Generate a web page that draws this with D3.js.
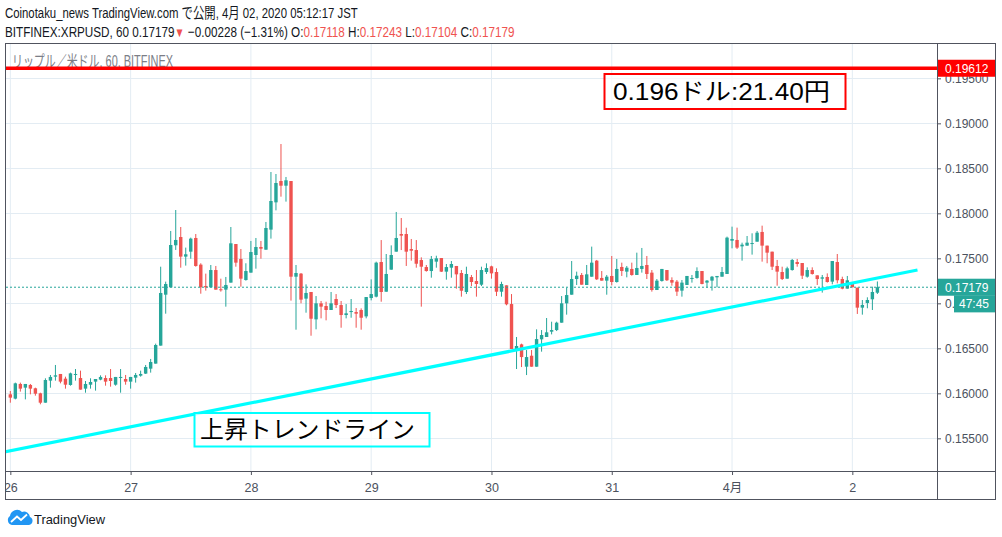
<!DOCTYPE html>
<html lang="ja">
<head>
    <meta charset="UTF-8">
    <title>XRPUSD 60</title>
    <style>
        body { margin: 0; background: #fff; }
        svg text { font-family: "Liberation Sans", "Noto Sans CJK JP", sans-serif; }
    </style>
</head>
<body>
<svg id="chart" width="1002" height="537"></svg>

<script src="https://cdnjs.cloudflare.com/ajax/libs/d3/7.8.5/d3.min.js"></script>
<script>
    // hourly candles, first one is 2020-03-26 00:00 (JST shown as UTC here)
    var startTime = Date.UTC(2020, 2, 26, 0, 0);

    var opens = [
        0.15989, 0.15941, 0.16104, 0.16063, 0.16093, 0.16056, 0.16000, 0.15896, 0.16141, 0.16185, 0.16215, 0.16163,
        0.16093, 0.16207, 0.16170, 0.16052, 0.16096, 0.16130, 0.16152, 0.16170, 0.16170, 0.16096, 0.16174, 0.16159,
        0.16130, 0.16174, 0.16196, 0.16219, 0.16274, 0.16330, 0.16530, 0.17096, 0.17178, 0.17645, 0.17737, 0.17519,
        0.17574, 0.17726, 0.17430, 0.17193, 0.17178, 0.17370, 0.17156, 0.17152, 0.17230, 0.17659, 0.17493, 0.17259,
        0.17341, 0.17537, 0.17626, 0.17596, 0.17819, 0.18122, 0.18359, 0.18307, 0.18359, 0.17296, 0.17330, 0.17052,
        0.17126, 0.16822, 0.17000, 0.16970, 0.16926, 0.17048, 0.16981, 0.16870, 0.16903, 0.16903, 0.16926, 0.16855,
        0.17059, 0.17074, 0.17459, 0.17129, 0.17374, 0.17574, 0.17770, 0.17770, 0.17603, 0.17592, 0.17481, 0.17403,
        0.17359, 0.17463, 0.17503, 0.17352, 0.17396, 0.17415, 0.17337, 0.17126, 0.17292, 0.17248, 0.17207, 0.17348,
        0.17411, 0.17348, 0.17129, 0.17200, 0.16992, 0.16492, 0.16544, 0.16296, 0.16418, 0.16296, 0.16600, 0.16626,
        0.16685, 0.16703, 0.16785, 0.17000, 0.17096, 0.17270, 0.17315, 0.17204, 0.17296, 0.17474, 0.17282, 0.17252,
        0.17304, 0.17237, 0.17404, 0.17352, 0.17382, 0.17315, 0.17382, 0.17426, 0.17341, 0.17148, 0.17248, 0.17370,
        0.17259, 0.17241, 0.17141, 0.17204, 0.17274, 0.17282, 0.17359, 0.17230, 0.17252, 0.17289, 0.17296, 0.17326,
        0.17696, 0.17704, 0.17633, 0.17641, 0.17663, 0.17685, 0.17793, 0.17641, 0.17574, 0.17415, 0.17348, 0.17274,
        0.17370, 0.17459, 0.17448, 0.17296, 0.17370, 0.17311, 0.17274, 0.17293, 0.17241, 0.17459, 0.17270, 0.17163,
        0.17233, 0.17174, 0.16952, 0.17004, 0.17045, 0.17118
    ];
    var highs = [
        0.16026, 0.16119, 0.16119, 0.16104, 0.16104, 0.16063, 0.16007, 0.16167, 0.16204, 0.16315, 0.16215, 0.16185,
        0.16230, 0.16270, 0.16252, 0.16137, 0.16167, 0.16159, 0.16200, 0.16200, 0.16270, 0.16182, 0.16270, 0.16204,
        0.16182, 0.16226, 0.16252, 0.16315, 0.16382, 0.16552, 0.17407, 0.17241, 0.17804, 0.18037, 0.17848, 0.17619,
        0.17730, 0.17770, 0.17445, 0.17330, 0.17426, 0.17415, 0.17274, 0.17293, 0.17848, 0.17659, 0.17604, 0.17445,
        0.17693, 0.17726, 0.17693, 0.17904, 0.18459, 0.18437, 0.18770, 0.18404, 0.18359, 0.17426, 0.17337, 0.17211,
        0.17126, 0.17081, 0.17026, 0.17018, 0.17126, 0.17103, 0.17026, 0.16992, 0.17048, 0.16948, 0.16944, 0.17070,
        0.17266, 0.17463, 0.17703, 0.17548, 0.17644, 0.18015, 0.17948, 0.17840, 0.17715, 0.17703, 0.17511, 0.17426,
        0.17526, 0.17529, 0.17503, 0.17437, 0.17470, 0.17415, 0.17370, 0.17407, 0.17315, 0.17370, 0.17407, 0.17444,
        0.17418, 0.17389, 0.17240, 0.17200, 0.17103, 0.16626, 0.16552, 0.16481, 0.16481, 0.16711, 0.16703, 0.16837,
        0.16796, 0.16796, 0.17081, 0.17174, 0.17470, 0.17352, 0.17337, 0.17426, 0.17630, 0.17482, 0.17359, 0.17315,
        0.17526, 0.17493, 0.17452, 0.17415, 0.17452, 0.17563, 0.17615, 0.17526, 0.17370, 0.17270, 0.17382, 0.17370,
        0.17289, 0.17259, 0.17259, 0.17304, 0.17315, 0.17400, 0.17359, 0.17259, 0.17304, 0.17304, 0.17404, 0.17741,
        0.17852, 0.17841, 0.17674, 0.17748, 0.17778, 0.17804, 0.17863, 0.17641, 0.17574, 0.17482, 0.17407, 0.17407,
        0.17493, 0.17493, 0.17448, 0.17400, 0.17400, 0.17311, 0.17315, 0.17333, 0.17470, 0.17548, 0.17296, 0.17304,
        0.17233, 0.17174, 0.17037, 0.17067, 0.17185, 0.17243
    ];
    var lows = [
        0.15896, 0.15933, 0.16019, 0.15933, 0.15989, 0.15974, 0.15878, 0.15896, 0.16063, 0.16141, 0.16111, 0.16052,
        0.16085, 0.16141, 0.16041, 0.16007, 0.16052, 0.16030, 0.16145, 0.16085, 0.16074, 0.16085, 0.16007, 0.16096,
        0.16052, 0.16119, 0.16185, 0.16215, 0.16230, 0.16330, 0.16530, 0.16885, 0.17178, 0.17593, 0.17396, 0.17419,
        0.17496, 0.17407, 0.17107, 0.17141, 0.17178, 0.17152, 0.17130, 0.16963, 0.17230, 0.17407, 0.17185, 0.17252,
        0.17341, 0.17385, 0.17496, 0.17596, 0.17719, 0.18033, 0.18185, 0.18130, 0.17030, 0.16707, 0.17000, 0.16896,
        0.16640, 0.16711, 0.16833, 0.16811, 0.16926, 0.16948, 0.16729, 0.16833, 0.16840, 0.16729, 0.16707, 0.16833,
        0.17033, 0.17066, 0.17018, 0.17129, 0.17374, 0.17574, 0.17592, 0.17415, 0.17474, 0.17396, 0.16963, 0.17352,
        0.17285, 0.17396, 0.17348, 0.17263, 0.17285, 0.17163, 0.17074, 0.17103, 0.17192, 0.17074, 0.17192, 0.17326,
        0.17274, 0.17081, 0.17074, 0.16978, 0.16492, 0.16270, 0.16292, 0.16203, 0.16296, 0.16296, 0.16463, 0.16626,
        0.16655, 0.16692, 0.16785, 0.16874, 0.17096, 0.17204, 0.17207, 0.17204, 0.17296, 0.17259, 0.17252, 0.17096,
        0.17200, 0.17230, 0.17304, 0.17289, 0.17307, 0.17315, 0.17341, 0.17270, 0.17130, 0.17148, 0.17241, 0.17248,
        0.17196, 0.17082, 0.17074, 0.17204, 0.17230, 0.17274, 0.17211, 0.17174, 0.17141, 0.17178, 0.17296, 0.17326,
        0.17611, 0.17604, 0.17474, 0.17641, 0.17541, 0.17685, 0.17463, 0.17445, 0.17370, 0.17196, 0.17259, 0.17274,
        0.17363, 0.17407, 0.17270, 0.17285, 0.17319, 0.17204, 0.17119, 0.17230, 0.17211, 0.17222, 0.17156, 0.17163,
        0.17178, 0.16882, 0.16874, 0.16945, 0.16926, 0.17104
    ];
    var closes = [
        0.15952, 0.16111, 0.16052, 0.16104, 0.16052, 0.15996, 0.15896, 0.16148, 0.16182, 0.16200, 0.16130, 0.16096,
        0.16222, 0.16215, 0.16041, 0.16104, 0.16126, 0.16159, 0.16182, 0.16130, 0.16137, 0.16182, 0.16182, 0.16130,
        0.16182, 0.16204, 0.16215, 0.16293, 0.16348, 0.16537, 0.17115, 0.17215, 0.17648, 0.17704, 0.17519, 0.17545,
        0.17719, 0.17415, 0.17178, 0.17178, 0.17370, 0.17152, 0.17145, 0.17204, 0.17667, 0.17452, 0.17274, 0.17359,
        0.17570, 0.17626, 0.17607, 0.17837, 0.18137, 0.18337, 0.18307, 0.18367, 0.17296, 0.17337, 0.17041, 0.17115,
        0.16829, 0.17000, 0.16963, 0.16926, 0.17000, 0.16981, 0.16870, 0.16889, 0.16915, 0.16885, 0.16840, 0.17070,
        0.17103, 0.17452, 0.17126, 0.17326, 0.17537, 0.17726, 0.17752, 0.17574, 0.17585, 0.17440, 0.17407, 0.17359,
        0.17492, 0.17500, 0.17352, 0.17403, 0.17437, 0.17322, 0.17140, 0.17326, 0.17237, 0.17215, 0.17370, 0.17392,
        0.17333, 0.17129, 0.17215, 0.16989, 0.16492, 0.16526, 0.16403, 0.16403, 0.16296, 0.16603, 0.16648, 0.16678,
        0.16703, 0.16785, 0.17000, 0.17092, 0.17270, 0.17307, 0.17207, 0.17322, 0.17452, 0.17267, 0.17252, 0.17296,
        0.17237, 0.17382, 0.17359, 0.17396, 0.17315, 0.17393, 0.17415, 0.17326, 0.17148, 0.17252, 0.17382, 0.17256,
        0.17230, 0.17130, 0.17230, 0.17304, 0.17282, 0.17359, 0.17215, 0.17252, 0.17296, 0.17304, 0.17348, 0.17730,
        0.17715, 0.17619, 0.17652, 0.17674, 0.17670, 0.17785, 0.17641, 0.17563, 0.17407, 0.17352, 0.17270, 0.17389,
        0.17482, 0.17437, 0.17307, 0.17370, 0.17326, 0.17270, 0.17289, 0.17237, 0.17470, 0.17256, 0.17163, 0.17256,
        0.17178, 0.16952, 0.16982, 0.17037, 0.17126, 0.17179
    ];

    var priceTicks = [0.155, 0.160, 0.165, 0.170, 0.175, 0.180, 0.185, 0.190, 0.195];
    var dayTicks = [
        Date.UTC(2020, 2, 26), Date.UTC(2020, 2, 27), Date.UTC(2020, 2, 28), Date.UTC(2020, 2, 29),
        Date.UTC(2020, 2, 30), Date.UTC(2020, 2, 31), Date.UTC(2020, 3, 1), Date.UTC(2020, 3, 2)
    ];
    var dayLabels = ["26", "27", "28", "29", "30", "31", "4月", "2"];

    var resistance = 0.19612;
    var lastClose = 0.17179;
    var countdown = "47:45";
    // two anchor points of the drawn trend line
    var trendTimes = [Date.UTC(2020, 2, 25, 23, 0), Date.UTC(2020, 3, 2, 13, 0)];
    var trendPrices = [0.1535, 0.1737];

    var UP = "#26a69a", DOWN = "#ef5350", GRID = "#e3ecf3", FRAME = "#50535e";

    // candles as objects
    var candles = opens.map(function (o, i) {
        return {t: startTime + i * 3600e3, o: o, h: highs[i], l: lows[i], c: closes[i]};
    });

    var plot = {left: 6, right: 937, top: 44, bottom: 471};

    var x = d3.scaleUtc()
        .domain([dayTicks[0], dayTicks[7]])
        .range([10.33, 852.33]);
    var y = d3.scaleLinear()
        .domain([0.15137, 0.19887])
        .range([471, 43.5]);

    var svg = d3.select("#chart");

    // header: the screenshot uses a condensed face, so squeeze each line horizontally
    function headerLine(baseline, width, parts) {
        var g = svg.append("g");
        var t = g.append("text").attr("x", 0).attr("y", 0)
            .attr("font-size", 15).attr("fill", "#131722");
        parts.forEach(function (p) {
            var ts = t.append("tspan").text(p[0]);
            if (p[1]) ts.attr("fill", p[1]);
            if (p[2]) ts.attr("font-size", p[2]);
        });
        var k = width / t.node().getComputedTextLength();
        g.attr("transform", "translate(5," + baseline + ") scale(" + k + ",1)");
    }
    headerLine(18, 353, [["Coinotaku_news TradingView.com で公開, 4月 02, 2020 05:12:17 JST"]]);
    headerLine(37, 510, [
        ["BITFINEX:XRPUSD, 60 0.17179"],
        ["▼", DOWN, 13],
        [" −0.00228 (−1.31%) O:"],
        ["0.17118", DOWN], [" H:"],
        ["0.17243", DOWN], [" L:"],
        ["0.17104", DOWN], [" C:"],
        ["0.17179", DOWN]
    ]);

    // clip for the price pane
    svg.append("clipPath").attr("id", "pane")
        .append("rect")
        .attr("x", plot.left).attr("y", plot.top)
        .attr("width", plot.right - plot.left).attr("height", plot.bottom - plot.top);

    var pane = svg.append("g").attr("clip-path", "url(#pane)");

    // grid
    pane.selectAll(".vgrid")
        .data(dayTicks)
        .enter().append("line")
        .attr("x1", function (d) { return x(d); })
        .attr("x2", function (d) { return x(d); })
        .attr("y1", plot.top).attr("y2", plot.bottom)
        .attr("stroke", GRID).attr("stroke-width", 1);

    pane.selectAll(".hgrid")
        .data(priceTicks)
        .enter().append("line")
        .attr("x1", plot.left).attr("x2", plot.right)
        .attr("y1", function (d) { return Math.round(y(d)) + 0.5; })
        .attr("y2", function (d) { return Math.round(y(d)) + 0.5; })
        .attr("stroke", GRID).attr("stroke-width", 1);

    // symbol title inside the pane
    pane.append("text")
        .attr("x", 12).attr("y", 67)
        .attr("font-size", 16).attr("fill", "#7b7e87")
        .attr("textLength", 161).attr("lengthAdjust", "spacingAndGlyphs")
        .text("リップル／米ドル, 60, BITFINEX");

    // wicks
    pane.selectAll(".wick")
        .data(candles)
        .enter().append("line")
        .attr("x1", function (d) { return x(d.t); })
        .attr("x2", function (d) { return x(d.t); })
        .attr("y1", function (d) { return y(d.h); })
        .attr("y2", function (d) { return y(d.l); })
        .attr("stroke", function (d) { return d.c >= d.o ? UP : DOWN; })
        .attr("stroke-width", 1);

    // bodies
    pane.selectAll(".body")
        .data(candles)
        .enter().append("rect")
        .attr("x", function (d) { return x(d.t) - 1.7; })
        .attr("width", 3.4)
        .attr("y", function (d) { return y(Math.max(d.o, d.c)); })
        .attr("height", function (d) { return Math.max(1, Math.abs(y(d.o) - y(d.c))); })
        .attr("fill", function (d) { return d.c >= d.o ? UP : DOWN; });

    // last price line
    pane.append("line")
        .attr("x1", plot.left).attr("x2", plot.right)
        .attr("y1", y(lastClose)).attr("y2", y(lastClose))
        .attr("stroke", UP).attr("stroke-width", 1)
        .attr("stroke-dasharray", "2,2");

    // horizontal resistance line
    pane.append("line")
        .attr("x1", plot.left).attr("x2", plot.right)
        .attr("y1", y(resistance)).attr("y2", y(resistance))
        .attr("stroke", "#ff0000").attr("stroke-width", 3.5);

    // trend line
    pane.append("line")
        .attr("x1", x(trendTimes[0])).attr("y1", y(trendPrices[0]))
        .attr("x2", x(trendTimes[1])).attr("y2", y(trendPrices[1]))
        .attr("stroke", "#00ffff").attr("stroke-width", 3.2);

    // text boxes
    svg.append("rect")
        .attr("x", 604.5).attr("y", 74).attr("width", 241).attr("height", 35)
        .attr("fill", "#fff").attr("fill-opacity", 0.7)
        .attr("stroke", "#ff0000").attr("stroke-width", 2);
    svg.append("text")
        .attr("x", 613).attr("y", 100)
        .attr("font-size", 24).attr("fill", "#000")
        .attr("textLength", 217).attr("lengthAdjust", "spacingAndGlyphs")
        .text("0.196ドル:21.40円");

    svg.append("rect")
        .attr("x", 194.5).attr("y", 413).attr("width", 235).attr("height", 33.5)
        .attr("fill", "#fff").attr("fill-opacity", 0.7)
        .attr("stroke", "#00ffff").attr("stroke-width", 2);
    svg.append("text")
        .attr("x", 200).attr("y", 438)
        .attr("font-size", 24).attr("fill", "#000")
        .attr("textLength", 215).attr("lengthAdjust", "spacingAndGlyphs")
        .text("上昇トレンドライン");

    // price axis
    var yAxis = svg.append("g")
        .attr("transform", "translate(" + plot.right + ",0)")
        .call(d3.axisRight(y).tickValues(priceTicks).tickFormat(d3.format(".5f")).tickSize(4).tickPadding(4));
    yAxis.select(".domain").remove();
    yAxis.selectAll("line").attr("stroke", FRAME);
    yAxis.selectAll("text")
        .attr("font-family", "Liberation Sans, sans-serif")
        .attr("font-size", 12).attr("fill", "#4c525e");

    // time axis (clip wrapper has no transform so the clip rect is in page pixels)
    svg.append("clipPath").attr("id", "taxis")
        .append("rect")
        .attr("x", plot.left).attr("y", plot.bottom)
        .attr("width", plot.right - plot.left).attr("height", 30);
    var xAxis = svg.append("g")
        .attr("clip-path", "url(#taxis)")
        .append("g")
        .attr("transform", "translate(0," + plot.bottom + ")")
        .call(d3.axisBottom(x).tickValues(dayTicks)
            .tickFormat(function (d, i) { return dayLabels[i]; })
            .tickSize(4).tickPadding(8));
    xAxis.select(".domain").remove();
    xAxis.selectAll("line").attr("stroke", FRAME);
    xAxis.selectAll("text")
        .attr("font-family", "Liberation Sans, Noto Sans CJK JP, sans-serif")
        .attr("font-size", 12.5).attr("fill", "#4c525e");

    // axis price labels
    function priceLabel(v, color, text, x0) {
        var cy = y(v);
        svg.append("rect")
            .attr("x", x0).attr("y", cy - 8.5)
            .attr("width", 995 - x0).attr("height", 17)
            .attr("fill", color);
        svg.append("text")
            .attr("x", x0 === plot.right ? 945 : x0 + 5).attr("y", cy + 4.5)
            .attr("font-size", 12).attr("fill", "#fff")
            .text(text);
    }
    priceLabel(resistance, "#ff0000", d3.format(".5f")(resistance), plot.right);
    priceLabel(lastClose, UP, d3.format(".5f")(lastClose), plot.right);
    priceLabel(lastClose - 0.00185, UP, countdown, 954);

    // frame
    svg.append("rect")
        .attr("x", 5.5).attr("y", 43.5).attr("width", 990).attr("height", 456)
        .attr("fill", "none").attr("stroke", FRAME).attr("stroke-width", 1);
    svg.append("line")
        .attr("x1", plot.right + 0.5).attr("x2", plot.right + 0.5)
        .attr("y1", 43.5).attr("y2", 499.5)
        .attr("stroke", FRAME);
    svg.append("line")
        .attr("x1", 5.5).attr("x2", 995.5)
        .attr("y1", plot.bottom + 0.5).attr("y2", plot.bottom + 0.5)
        .attr("stroke", FRAME);

    // TradingView logo
    var logo = svg.append("g").attr("transform", "translate(7,508)");
    logo.append("path")
        .attr("d", "M5,17 A5,5 0 0 1 3,8 A7,7 0 0 1 15,4 A6,6 0 0 1 23,9 A4.2,4.2 0 0 1 22,17 Z")
        .attr("fill", "#2196f3");
    logo.append("path")
        .attr("d", "M4,14 L10,8.5 L14,12 L20,6.5")
        .attr("fill", "none").attr("stroke", "#fff").attr("stroke-width", 1.8);
    svg.append("text")
        .attr("x", 34).attr("y", 524)
        .attr("font-size", 13.5).attr("fill", "#131722")
        .attr("textLength", 71).attr("lengthAdjust", "spacingAndGlyphs")
        .text("TradingView");
</script>
</body>
</html>
